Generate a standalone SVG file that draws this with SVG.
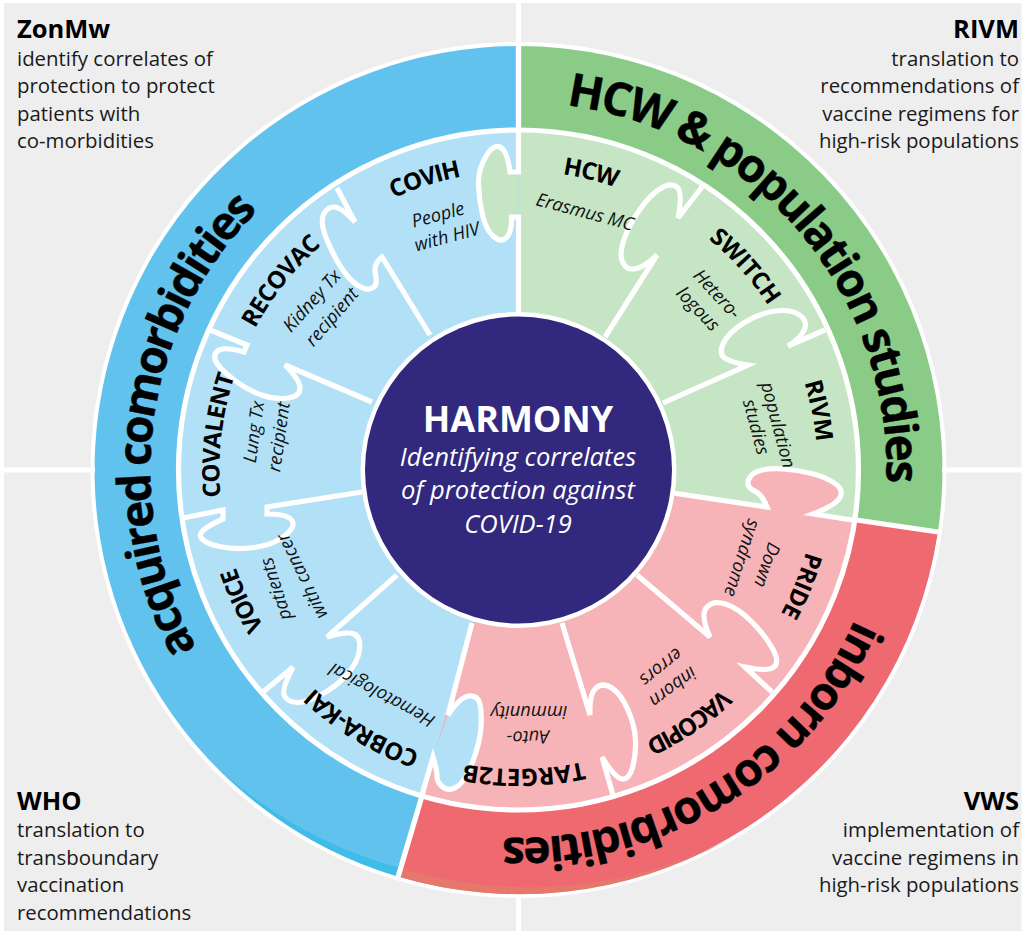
<svg xmlns="http://www.w3.org/2000/svg" xmlns:xlink="http://www.w3.org/1999/xlink" width="1025" height="933" viewBox="0 0 1025 933">
<style>
text{font-family:"Open Sans","Noto Sans","DejaVu Sans",sans-serif;fill:#111}
.fh{font-size:25.5px;font-weight:700;fill:#000}
.fb{font-size:20.4px;fill:#1a1a1a}
.r{text-anchor:end}
.big{font-size:46px;font-weight:700;fill:#000;stroke:#000;stroke-width:.4px;text-anchor:middle}
.t{font-size:24px;font-weight:700;fill:#000;text-anchor:middle}
.s{font-size:18.3px;font-style:italic;text-anchor:middle}
.ci{font-size:25.5px;font-style:italic;fill:#fff;text-anchor:middle}
.div{fill:none;stroke:#fff;stroke-width:5.2;stroke-linejoin:miter}
</style>
<defs>
<path id="c368" d="M518.5 102A368 368 0 1 1 518.5 838A368 368 0 1 1 518.5 102"/>
<path id="c299" d="M518.5 171A299 299 0 1 1 518.5 769A299 299 0 1 1 518.5 171"/>
</defs>
<rect width="1025" height="933" fill="#fff"/>
<g id="panels" fill="#eee">
<rect x="4" y="3" width="512" height="465"/>
<rect x="520.5" y="3" width="501" height="465"/>
<rect x="4" y="472" width="512" height="459"/>
<rect x="520.5" y="472" width="501" height="459"/>
</g>
<g id="funder-zonmw"><text class="fh" x="17" y="38">ZonMw</text>
<text class="fb"><tspan x="17" y="66">identify correlates of</tspan><tspan x="17" y="93">protection to protect</tspan><tspan x="17" y="121">patients with</tspan><tspan x="17" y="148">co-morbidities</tspan></text></g>
<g id="funder-rivm"><text class="fh r" x="1019" y="38">RIVM</text>
<text class="fb r"><tspan x="1019" y="66">translation to</tspan><tspan x="1019" y="93">recommendations of</tspan><tspan x="1019" y="121">vaccine regimens for</tspan><tspan x="1019" y="148">high-risk populations</tspan></text></g>
<g id="funder-who"><text class="fh" x="17" y="810">WHO</text>
<text class="fb"><tspan x="17" y="837">translation to</tspan><tspan x="17" y="865">transboundary</tspan><tspan x="17" y="892">vaccination</tspan><tspan x="17" y="920">recommendations</tspan></text></g>
<g id="funder-vws"><text class="fh r" x="1019" y="810">VWS</text>
<text class="fb r"><tspan x="1019" y="837">implementation of</tspan><tspan x="1019" y="865">vaccine regimens in</tspan><tspan x="1019" y="892">high-risk populations</tspan></text></g>
<circle cx="518.5" cy="470" r="428" fill="#fff"/>
<g id="outer-ring">
<path d="M518.5 470V46A424 424 0 0 1 937.9 532Z" fill="#8acc87"/>
<path d="M518.5 470L937.9 532A424 424 0 0 1 398 876.5Z" fill="#ee6a70"/>
<path d="M518.5 470L398 876.5A424 424 0 0 1 518.5 46Z" fill="#62c2ee"/>
<path d="M398 876.5A424 424 0 0 0 727 840A440 440 0 0 1 400 868Z" fill="#e5786b"/>
<path d="M398 876.5A424 424 0 0 1 220 770A440 440 0 0 0 400 868Z" fill="#3fbce8"/>
<text class="big"><textPath href="#c368" xlink:href="#c368" startOffset="13.82%" textLength="543">HCW &amp; population studies</textPath></text>
<text class="big"><textPath href="#c368" xlink:href="#c368" startOffset="77.22%" textLength="475">acquired comorbidities</textPath></text>
<text class="big"><textPath href="#c368" xlink:href="#c368" startOffset="41.18%" textLength="440">inborn comorbidities</textPath></text>
</g>
<g id="sectors">
<path d="M518.5 470V130A340 340 0 0 1 854.8 520Z" fill="#c5e5c4"/>
<path d="M518.5 470L854.8 520A340 340 0 0 1 422 796Z" fill="#f6b3b8"/>
<path d="M518.5 470L422 796A340 340 0 0 1 518.5 130Z" fill="#b2e1f7"/>
<path d="M518.5 172H510Q507 150 500 147Q493 144 485.5 157Q478 170 478.5 185Q479 200 482.5 215Q486 230 493.5 236.5Q501 243 506.5 237.5Q512 232 511.5 217H518.5Z" fill="#c5e5c4"/>
<path d="M767 507Q762 494 754 490.5Q746 487 748.5 480Q751 473 760.5 470.5Q770 468 783.5 469Q797 470 811.5 473.5Q826 477 835 483.5Q844 490 840 497.5Q836 505 813 514Z" fill="#f6b3b8"/>
<path d="M448 715Q460 697 469 696Q478 695 480 704Q482 713 481 727.5Q480 742 473 761Q466 780 458 786Q450 792 443.5 787.5Q437 783 437 776.5Q437 770 433 757Z" fill="#b2e1f7"/>
</g>
<g id="connectors">
<path class="div" d="M518.5 0V130M518.5 897V933M0 470H95M942 470H1025"/>
<path class="div" d="M518.5 47V130M853 519.500L938 532M422 796L398 877"/>
<circle class="div" cx="518.5" cy="470" r="340"/>
<path class="div" d="M518.5 130V172H510Q507 150 500 147Q493 144 485.5 157Q478 170 478.5 185Q479 200 482.5 215Q486 230 493.5 236.5Q501 243 506.5 237.5Q512 232 511.5 217H518.5V313"/>
<path class="div" d="M673 493L767 507Q762 494 754 490.5Q746 487 748.5 480Q751 473 760.5 470.5Q770 468 783.5 469Q797 470 811.5 473.5Q826 477 835 483.5Q844 490 840 497.5Q836 505 813 514L852 520"/>
<path class="div" d="M472 623L448 715Q460 697 469 696Q478 695 480 704Q482 713 481 727.5Q480 742 473 761Q466 780 458 786Q450 792 443.5 787.5Q437 783 437 776.5Q437 770 433 757L422 795"/>
<path class="div" d="M562 623L590 715Q589 694 596 688Q603 682 612 688Q621 694 628 710Q635 726 635.5 740.5Q636 755 632.5 767.5Q629 780 622 779Q615 778 602 757L613 795"/>
<path class="div" d="M637 575L710 637Q700 615 706.5 607.500Q713 600 725.5 604Q738 608 751.5 621.5Q765 635 772.5 648.5Q780 662 774 667Q768 672 745 667L772 692"/>
<path class="div" d="M605 337L657 255Q643 268 634.5 269Q626 270 622.5 262Q619 254 624 239.5Q629 225 639.5 210Q650 195 660.5 188.5Q671 182 677 187Q683 192 678 218L702 187"/>
<path class="div" d="M663 403L748 365Q733 363 725.5 358.5Q718 354 723.5 343Q729 332 744.5 322.5Q760 313 775.5 311Q791 309 799.5 315Q808 321 804.5 329.5Q801 338 788 346L825 330"/>
<path class="div" d="M430 335L382 257Q373 264 375.5 274.5Q378 285 372.5 288Q367 291 358 285.5Q349 280 340.5 266.5Q332 253 326 237.5Q320 222 323.5 214.500Q327 207 334 207Q341 207 355 222L337 188"/>
<path class="div" d="M372 402L285 365Q300 380 300 388Q300 396 288.500 398Q277 400 263 395.5Q249 391 235.5 381Q222 371 217 363.5Q212 356 217.5 351Q223 346 244 352L247 345L210 330"/>
<path class="div" d="M362 492L267 507V514Q288 514 292 520.5Q296 527 284.5 536Q273 545 254.5 547.5Q236 550 219.5 546.5Q203 543 200.5 536.5Q198 530 223 519V510L183 518"/>
<path class="div" d="M397 575L327 637Q347 631 354 634Q361 637 359.500 649.500Q358 662 347.500 674Q337 686 321.500 694.500Q306 703 297 702.500Q288 702 284.500 696Q281 690 293 667L263 692"/>
</g>
<g id="node-covih"><text class="t"><textPath href="#c299" xlink:href="#c299" startOffset="95.04%" textLength="71.500">COVIH</textPath></text>
<text class="s" transform="translate(438 215) rotate(-15)" dy=".33em">People</text><text class="s" transform="translate(447 237) rotate(-15)" dy=".33em">with HIV</text></g>
<g id="node-hcw"><text class="t"><textPath href="#c299" xlink:href="#c299" startOffset="3.82%" textLength="55">HCW</textPath></text>
<text class="s" transform="translate(585 212) rotate(15)" dy=".33em">Erasmus MC</text></g>
<g id="node-switch"><text class="t"><textPath href="#c299" xlink:href="#c299" startOffset="13.36%" textLength="90">SWITCH</textPath></text>
<text class="s" transform="translate(717 294) rotate(47)" dy=".33em">Hetero-</text><text class="s" transform="translate(698 309) rotate(46)" dy=".33em">logous</text></g>
<g id="node-rivm"><text class="t"><textPath href="#c299" xlink:href="#c299" startOffset="21.89%" textLength="60.500">RIVM</textPath></text>
<text class="s" transform="translate(778 425) rotate(75)" dy=".33em">population</text><text class="s" transform="translate(756 427) rotate(75)" dy=".33em">studies</text></g>
<g id="node-pride"><text class="t"><textPath href="#c299" xlink:href="#c299" startOffset="31.19%" textLength="67">PRIDE</textPath></text>
<text class="s" transform="translate(767 565) rotate(109)" dy=".33em">Down</text><text class="s" transform="translate(742 558) rotate(108)" dy=".33em">syndrome</text></g>
<g id="node-vacopid"><text class="t"><textPath href="#c299" xlink:href="#c299" startOffset="40.56%" textLength="93">VACOPID</textPath></text>
<text class="s" transform="translate(673 687) rotate(143)" dy=".33em">inborn</text><text class="s" transform="translate(661 667) rotate(141)" dy=".33em">errors</text></g>
<g id="node-target2b"><text class="t"><textPath href="#c299" xlink:href="#c299" startOffset="49.72%" textLength="120">TARGET2B</textPath></text>
<text class="s" transform="translate(528 737) rotate(178)" dy=".33em">Auto-</text><text class="s" transform="translate(529 712) rotate(180)" dy=".33em">immunity</text></g>
<g id="node-cobra-kai"><text class="t"><textPath href="#c299" xlink:href="#c299" startOffset="58.69%" textLength="125">COBRA-KAI</textPath></text>
<text class="s" transform="translate(382 695) rotate(208)" dy=".33em">Hematological</text></g>
<g id="node-voice"><text class="t"><textPath href="#c299" xlink:href="#c299" startOffset="67.97%" textLength="66">VOICE</textPath></text>
<text class="s" transform="translate(276 589) rotate(252)" dy=".33em">patients</text><text class="s" transform="translate(302 576) rotate(244)" dy=".33em">with cancer</text></g>
<g id="node-covalent"><text class="t"><textPath href="#c299" xlink:href="#c299" startOffset="76.83%" textLength="123">COVALENT</textPath></text>
<text class="s" transform="translate(254 432) rotate(-82)" dy=".33em">Lung Tx</text><text class="s" transform="translate(279 437) rotate(-82)" dy=".33em">recipient</text></g>
<g id="node-recovac"><text class="t"><textPath href="#c299" xlink:href="#c299" startOffset="85.69%" textLength="107">RECOVAC</textPath></text>
<text class="s" transform="translate(312 301) rotate(-48)" dy=".33em">Kidney Tx</text><text class="s" transform="translate(332 317) rotate(-49)" dy=".33em">recipient</text></g>
<g id="node-harmony">
<circle cx="518.5" cy="470" r="158" fill="#fff"/>
<circle cx="518.5" cy="470" r="153.5" fill="#32287d"/>
<text x="518" y="432" text-anchor="middle" font-size="36" font-weight="700" style="fill:#fff">HARMONY</text>
<text class="ci" x="518" y="466">Identifying correlates</text>
<text class="ci" x="518" y="499">of protection against</text>
<text class="ci" x="518" y="533">COVID-19</text>
</g>
</svg>
